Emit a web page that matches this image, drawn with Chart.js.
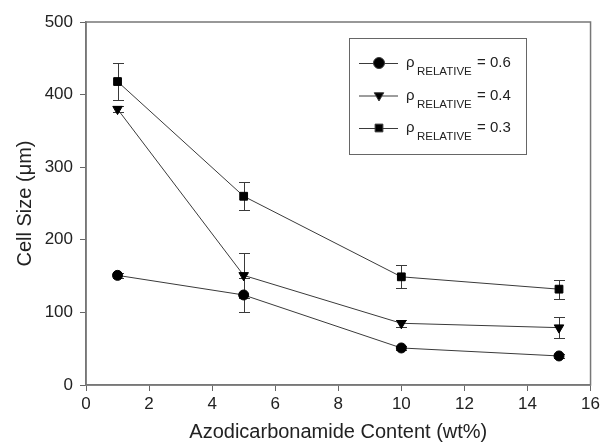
<!DOCTYPE html>
<html>
<head>
<meta charset="utf-8">
<script src="https://cdn.jsdelivr.net/npm/chart.js@4.4.0/dist/chart.umd.min.js"></script>
<style>
  html, body { margin: 0; padding: 0; background: #fff; }
  #wrap { width: 603px; height: 444px; }
</style>
</head>
<body>
<div id="wrap"><canvas id="cellChart"></canvas></div>
<script>
// Cell size vs. blowing agent content, three relative densities
const content = [1, 5, 10, 15];

const rho06 = [151, 124, 51, 40];
const rho06Err = [3, 24, 3, 3];

const rho04 = [380, 151, 85, 79];
const rho04Err = [4, 31, 5, 14];

const rho03 = [418, 260, 149, 132];
const rho03Err = [25, 19, 16, 13];

const xTicks = [0, 2, 4, 6, 8, 10, 12, 14, 16];
const yTicks = [0, 100, 200, 300, 400, 500];

const legendRows = [
    { style: 'circle', rotation: 0, value: '0.6' },
    { style: 'triangle', rotation: 180, value: '0.4' },
    { style: 'rect', rotation: 0, value: '0.3' }
];

const FONT = '"Liberation Sans", Arial, sans-serif';

function toPoints(ys) {
    return content.map((x, i) => ({ x: x, y: ys[i] }));
}

function series(label, ys, errs, style, radius) {
    return {
        label: label,
        data: toPoints(ys),
        errors: errs,
        borderColor: '#3a3a3a',
        borderWidth: 1,
        pointStyle: style,
        pointRadius: radius,
        pointBackgroundColor: '#000',
        pointBorderColor: '#000',
        pointBorderWidth: 1,
        fill: false,
        tension: 0
    };
}

// vertical error bars with caps
const errorBars = {
    id: 'errorBars',
    beforeDatasetsDraw(chart) {
        const ctx = chart.ctx;
        const xs = chart.scales.x, ys = chart.scales.y;
        ctx.save();
        ctx.strokeStyle = '#3a3a3a';
        ctx.lineWidth = 1;
        chart.data.datasets.forEach(ds => {
            ds.data.forEach((p, i) => {
                const e = ds.errors[i];
                const px = Math.round(xs.getPixelForValue(p.x)) + 0.5;
                const top = Math.round(ys.getPixelForValue(p.y + e)) + 0.5;
                const bot = Math.round(ys.getPixelForValue(p.y - e)) + 0.5;
                ctx.beginPath();
                ctx.moveTo(px, top); ctx.lineTo(px, bot);
                ctx.moveTo(px - 5.5, top); ctx.lineTo(px + 5.5, top);
                ctx.moveTo(px - 5.5, bot); ctx.lineTo(px + 5.5, bot);
                ctx.stroke();
            });
        });
        ctx.restore();
    }
};

// frame round the plot area
const frame = {
    id: 'frame',
    afterDraw(chart) {
        const { left, top, right, bottom } = chart.chartArea;
        const ctx = chart.ctx;
        ctx.save();
        ctx.strokeStyle = '#777';
        ctx.lineWidth = 1.5;
        ctx.strokeRect(left, top, right - left, bottom - top);
        ctx.restore();
    }
};

// legend box with subscripted labels
const densityLegend = {
    id: 'densityLegend',
    afterDraw(chart) {
        const ctx = chart.ctx;
        const bx = 349, by = 38, bw = 177, bh = 116;
        ctx.save();
        ctx.fillStyle = '#fff';
        ctx.fillRect(bx, by, bw, bh);
        ctx.strokeStyle = '#666';
        ctx.lineWidth = 1;
        ctx.strokeRect(bx + 0.5, by + 0.5, bw, bh);
        legendRows.forEach((row, i) => {
            const cy = 63 + i * 32.5;
            ctx.strokeStyle = '#3a3a3a';
            ctx.beginPath();
            ctx.moveTo(359, cy + 0.5);
            ctx.lineTo(398, cy + 0.5);
            ctx.stroke();
            ctx.fillStyle = '#000';
            Chart.helpers.drawPoint(ctx, {
                pointStyle: row.style, radius: 5.5, rotation: row.rotation, borderWidth: 1
            }, 379, cy);
            ctx.fillStyle = '#222';
            ctx.textBaseline = 'alphabetic';
            ctx.textAlign = 'left';
            ctx.font = '15px ' + FONT;
            ctx.fillText('ρ', 406, cy + 4);
            ctx.font = '11.5px ' + FONT;
            ctx.fillText('RELATIVE', 417, cy + 12);
            ctx.font = '15px ' + FONT;
            ctx.fillText('= ' + row.value, 477, cy + 4);
        });
        ctx.restore();
    }
};

const triDown = series('ρRELATIVE = 0.4', rho04, rho04Err, 'triangle', 5.5);
triDown.pointRotation = 180;

new Chart(document.getElementById('cellChart'), {
    type: 'line',
    data: {
        datasets: [
            series('ρRELATIVE = 0.6', rho06, rho06Err, 'circle', 5),
            triDown,
            series('ρRELATIVE = 0.3', rho03, rho03Err, 'rect', 5.5)
        ]
    },
    options: {
        responsive: true,
        maintainAspectRatio: false,
        animation: false,
        layout: { padding: { left: 0, top: 22, right: 12, bottom: 0 } },
        plugins: {
            legend: { display: false },
            tooltip: { enabled: false }
        },
        scales: {
            x: {
                type: 'linear',
                min: 0,
                max: 16,
                afterBuildTicks: s => { s.ticks = xTicks.map(v => ({ value: v })); },
                afterFit: s => { s.height = 59; },
                grid: { display: true, drawOnChartArea: false, tickLength: 6, color: '#666' },
                border: { color: '#777', width: 1.5 },
                ticks: { color: '#222', font: { family: FONT, size: 17 }, padding: 3, maxRotation: 0 },
                title: {
                    display: true,
                    text: 'Azodicarbonamide Content (wt%)',
                    color: '#222',
                    font: { family: FONT, size: 20 },
                    padding: { top: 0, bottom: 0 }
                }
            },
            y: {
                min: 0,
                max: 500,
                afterBuildTicks: s => { s.ticks = yTicks.map(v => ({ value: v })); },
                afterFit: s => { s.width = 86; },
                grid: { display: true, drawOnChartArea: false, tickLength: 6, color: '#666' },
                border: { color: '#777', width: 1.5 },
                ticks: { color: '#222', font: { family: FONT, size: 17 }, padding: 7 },
                title: {
                    display: true,
                    text: 'Cell Size (μm)',
                    color: '#222',
                    font: { family: FONT, size: 20 },
                    padding: { top: 13, bottom: 0 }
                }
            }
        }
    },
    plugins: [errorBars, frame, densityLegend]
});
</script>
</body>
</html>
